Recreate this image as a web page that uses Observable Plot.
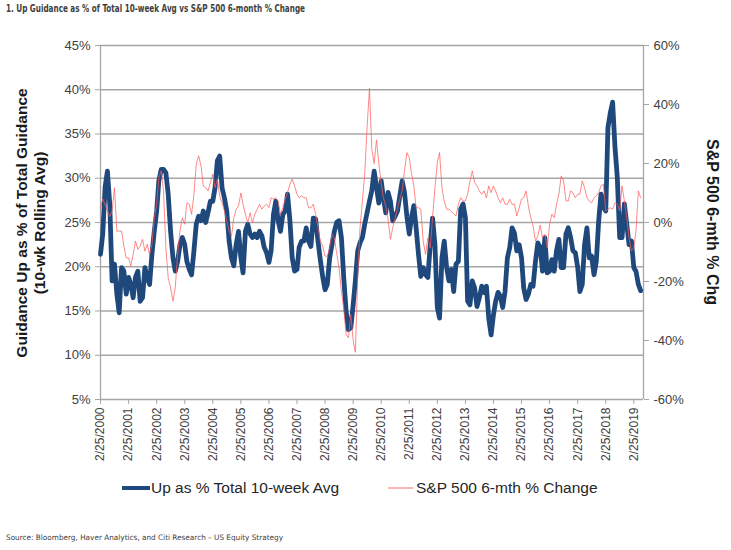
<!DOCTYPE html>
<html>
<head>
<meta charset="utf-8">
<script src="https://cdn.jsdelivr.net/npm/d3@7"></script>
<script src="https://cdn.jsdelivr.net/npm/@observablehq/plot@0.6"></script>
<style>
  html, body { margin: 0; padding: 0; background: #fff; }
  #chart svg { display: block; }
</style>
</head>
<body>
<div id="chart"></div>
<script>
// ---- Data (monthly readings starting 2/25/2000) ----
const seriesStart = "2000-02-25";

// Up guidance as % of total, 10-week average (left axis, %)
const upGuidance = [
  21.4, 23.7, 29, 30.8, 27, 18.4, 20.3, 16.9, 14.8, 19.9, 19.5, 16.9,
  18.8, 18, 16.5, 18.8, 19.5, 16.1, 16.5, 19.9, 18.8, 18, 21.4, 24,
  26.3, 29.7, 31, 31, 30.6, 28.2, 24, 21, 19.5, 20.6, 22.5, 23.3,
  22.5, 20.6, 19.7, 19.1, 21.8, 24.8, 25.7, 25.2, 26.3, 25, 26.1, 27.4,
  27.4, 28.9, 32, 32.5, 28.9, 27.8, 26.3, 22.9, 21, 20.1, 22.5, 24,
  21, 19.3, 24, 24.8, 23.7, 23.3, 23.7, 23.3, 24, 23.5, 22.2, 21.6,
  20.5, 21.8, 25.9, 27.4, 25.2, 24, 25.9, 26.3, 28.2, 25.2, 21, 19.5,
  19.7, 22.2, 22.9, 22.9, 24.4, 22.9, 22.3, 25.5, 25.4, 22.9, 20.8, 18.9,
  17.4, 18, 21, 22.5, 24, 25, 25.2, 23.3, 18.8, 15, 12.9, 13.1,
  15.7, 18.4, 21.8, 22.7, 23.3, 24.8, 26.1, 27.4, 28.6, 30.8, 29, 27.2,
  29.7, 27.8, 26.1, 28.4, 27.4, 25.2, 25.7, 26.3, 28, 29.7, 28.4, 25.7,
  23.7, 25.5, 26.9, 24.4, 21.4, 18.9, 19.9, 19.1, 18.8, 22.5, 25.5, 22.5,
  15.4, 14.2, 21, 22.9, 19.9, 18.4, 19.7, 17.2, 20.3, 20.6, 26.5, 27.1,
  25.5, 16.1, 15.7, 18.4, 17.6, 15.5, 16.5, 17.8, 17.1, 17.8, 14.2, 12.3,
  14.6, 16.1, 17.1, 16.7, 15.4, 17.2, 21, 22.2, 24.4, 23.8, 21.8, 22.5,
  21, 17.6, 16.3, 16.9, 18, 17.8, 20.6, 22.7, 22.2, 19.5, 23.3, 19.3,
  19.5, 20.8, 19.5, 21.8, 23.1, 19.9, 19.9, 23.7, 24.4, 23.3, 21.8, 21.6,
  19.9, 17.2, 18, 22.5, 24.4, 21, 21.2, 19.1, 20.6, 25.2, 28.2, 26.7,
  26.3, 35.7, 37.4, 38.6, 33.5, 30.1, 23.3, 23.3, 27.1, 24.8, 22.5, 22.9,
  19.9, 19.5, 18, 17.3
];

// S&P 500 6-month % change (right axis, %)
const spxChange = [
  5, 8, 6, 4, 2, 3.9, 11.8, -2.9, -2.9, -2.9, -8, -12,
  -12, -14.8, -10.8, -6.3, -9.1, -8, -5.7, -9.7, -7.4, -10.8, -7.4, 1.6,
  6.2, 15.2, 17.5, 10.7, -8.6, -18.7, -22.1, -26.7, -22.1, -10.8, -2.9, 1.6,
  -0.6, 6.7, 6.2, 2.8, 9.6, 19.8, 22.6, 19.2, 12.4, 11.8, 10.7, 13.5,
  16.4, 11.8, 14.7, 9, 6.7, 3.9, 0.5, -2.9, -4.6, 1.6, 4.5, 5.6,
  10, 6.2, 2.8, -0.1, 3.3, -0.1, 2.8, 4.5, 6.2, 4.5, 5.6, 6.2,
  5, 8.4, 7.9, 8.4, 7.3, 2.8, 5, 7.9, 10.1, 13, 14.7, 12.4,
  9.6, 8.4, 9, 8.4, 8.4, 5, 5, 6.2, 2.8, -1.8, -6.3, -8,
  -11.4, -11.4, -8.6, -4, -5.2, -10.3, -15.4, -23.3, -29, -38, -39.1, -31.2,
  -40, -44, -18.7, -1.8, 7.3, 16.4, 32.2, 45.5, 24.9, 20, 28, 20,
  13, 8.4, 5.6, 1.1, -5.7, -1.8, 1.6, 4.8, 7.9, 10.7, 17.5, 23.7,
  22, 16.9, 12.4, 5, 5, 4.5, -6.3, -10.8, -5.2, -8.6, 1.6, 11.8,
  20.3, 23.7, 11.8, 7.3, 4.5, 4.5, 3.7, 3, 2.2, 6.2, 8.4, 7.3,
  7.3, 9.6, 14.1, 17.5, 13.5, 12.4, 10.7, 9.6, 10.7, 8.4, 12.4, 10.1,
  12.4, 10.7, 8.4, 6.7, 8.4, 6.2, 6.2, 7.9, 6.2, 6.2, 2.2, 5,
  7.9, 8.4, 10.7, 5.6, 1.6, -1.2, -6.3, -4.6, -0.9, -5.2, -4, -8.6,
  -0.6, 2.8, 1.6, 6.2, 9.6, 15.8, 14.1, 7.3, 7.3, 10.7, 10.1, 8.4,
  9.6, 9.6, 14.1, 11.8, 8.4, 7.3, 6.7, 8.4, 9, 10.1, 12.4, 13,
  3.9, 4.5, 5, 4.5, 6.7, 6.2, 3.9, 12.4, 7.3, 1.6, -5.2, -9.7,
  -8.6, -2.9, 10.7, 8.4
];

const xTickLabels = [
  "2/25/2000","2/25/2001","2/25/2002","2/25/2003","2/25/2004","2/25/2005",
  "2/25/2006","2/25/2007","2/25/2008","2/25/2009","2/25/2010","2/25/2011",
  "2/25/2012","2/25/2013","2/25/2014","2/25/2015","2/25/2016","2/25/2017",
  "2/25/2018","2/25/2019"
];
const leftTicks = [5, 10, 15, 20, 25, 30, 35, 40, 45];
const rightTicks = [-60, -40, -20, 0, 20, 40, 60];
const xDomainLabels = ["2000-02-25", "2019-07-01"];

const titleText = "1. Up Guidance as % of Total 10-week Avg vs S&P 500 6-month % Change";
const sourceText = "Source: Bloomberg, Haver Analytics, and Citi Research \u2013 US Equity Strategy";
const legendLabels = ["Up as % Total 10-week Avg", "S&P 500 6-mth % Change"];
const leftTitle = ["Guidance Up as % of Total Guidance", "(10-wk Rolling Avg)"];
const rightTitle = "S&P 500 6-mth % Chg";

// ---- Build ----
const parseMDY = d3.utcParse("%m/%d/%Y");
const tickDates = xTickLabels.map(parseMDY);
const start = d3.utcParse("%Y-%m-%d")(seriesStart);
const xDomain = xDomainLabels.map(d3.utcParse("%Y-%m-%d"));
const leftDom = [d3.min(leftTicks), d3.max(leftTicks)];
const rightDom = [d3.min(rightTicks), d3.max(rightTicks)];
const toLeft = r => leftDom[0] + (r - rightDom[0]) * (leftDom[1] - leftDom[0]) / (rightDom[1] - rightDom[0]);
const fromLeft = l => rightDom[0] + (l - leftDom[0]) * (rightDom[1] - rightDom[0]) / (leftDom[1] - leftDom[0]);

const blueData = upGuidance.map((v, i) => ({date: d3.utcMonth.offset(start, i), v}));
const redData = spxChange.map((v, i) => ({date: d3.utcMonth.offset(start, i), v: toLeft(v)}));

const BLUE = "#1f497d";
const RED = "#ff5a5a";
const GRID = "#a6a6a6";
const TXT = "#404040";
const FONT = "'Liberation Sans', Arial, sans-serif";
const NARROW = "'Liberation Sans Narrow', 'Arial Narrow', 'DejaVu Sans Condensed', sans-serif";

const W = 731, H = 550;
const plot = Plot.plot({
  width: W,
  height: H,
  marginLeft: 100,
  marginRight: 88,
  marginTop: 45,
  marginBottom: 151,
  style: {fontFamily: FONT, background: "#fff", overflow: "visible"},
  x: {type: "utc", domain: xDomain},
  y: {domain: leftDom},
  marks: [
    Plot.gridY(leftTicks, {stroke: GRID, strokeOpacity: 1, strokeWidth: 1.3}),
    Plot.ruleX([xDomain[0], xDomain[1]], {y1: leftDom[0], y2: leftDom[1], stroke: GRID, strokeWidth: 1.3}),
    Plot.axisY({anchor: "left", ticks: leftTicks, tickFormat: d => d + "%", tickSize: 5, tickPadding: 5,
      stroke: GRID, fill: TXT, fontSize: 13, label: null}),
    Plot.axisY({anchor: "right", ticks: rightTicks.map(toLeft), tickFormat: d => Math.round(fromLeft(d)) + "%",
      tickSize: 5, tickPadding: 5, stroke: GRID, fill: TXT, fontSize: 13, label: null}),
    Plot.axisX({ticks: tickDates, tickFormat: d => xTickLabels[tickDates.findIndex(t => +t === +d)],
      tickRotate: -90, tickSize: 5, tickPadding: 3, stroke: GRID, fill: TXT, fontSize: 12, label: null}),
    Plot.line(blueData, {x: "date", y: "v", stroke: BLUE, strokeWidth: 4.8, strokeLinejoin: "round", strokeLinecap: "round"}),
    Plot.line(redData, {x: "date", y: "v", stroke: RED, strokeWidth: 0.8, strokeOpacity: 0.9})
  ]
});

const svg = d3.select(plot);
function addText(x, y, str, opts) {
  const t = svg.append("text").attr("x", x).attr("y", y).text(str)
    .attr("text-anchor", opts.anchor || "start")
    .attr("font-family", opts.family || FONT)
    .attr("font-size", opts.size)
    .attr("font-weight", opts.weight || "normal")
    .attr("fill", opts.fill || TXT);
  if (opts.transform) t.attr("transform", opts.transform);
  if (opts.length) t.attr("textLength", opts.length).attr("lengthAdjust", "spacingAndGlyphs");
  return t;
}
// Title
addText(6, 12, titleText, {family: NARROW, size: 10, weight: "bold", length: 299});
// Source
addText(6, 540, sourceText, {family: NARROW, size: 7.5, length: 277});
// Left axis title
leftTitle.forEach((t, i) => {
  addText(0, 0, t, {anchor: "middle", size: 15.5, weight: "bold", fill: "#1a1a1a",
    transform: `translate(${27 + i * 18},223) rotate(-90)`});
});
// Right axis title
addText(0, 0, rightTitle, {anchor: "middle", size: 16, weight: "bold", fill: "#1a1a1a",
  transform: `translate(707,222) rotate(90)`});
// Legend
svg.append("line").attr("x1", 122).attr("x2", 150).attr("y1", 488).attr("y2", 488)
  .attr("stroke", BLUE).attr("stroke-width", 4);
addText(151, 493, legendLabels[0], {size: 15.5, fill: "#262626"});
svg.append("line").attr("x1", 388).attr("x2", 413).attr("y1", 488).attr("y2", 488)
  .attr("stroke", RED).attr("stroke-width", 0.9);
addText(416, 493, legendLabels[1], {size: 15.5, fill: "#262626"});

document.getElementById("chart").appendChild(plot);
</script>
</body>
</html>
